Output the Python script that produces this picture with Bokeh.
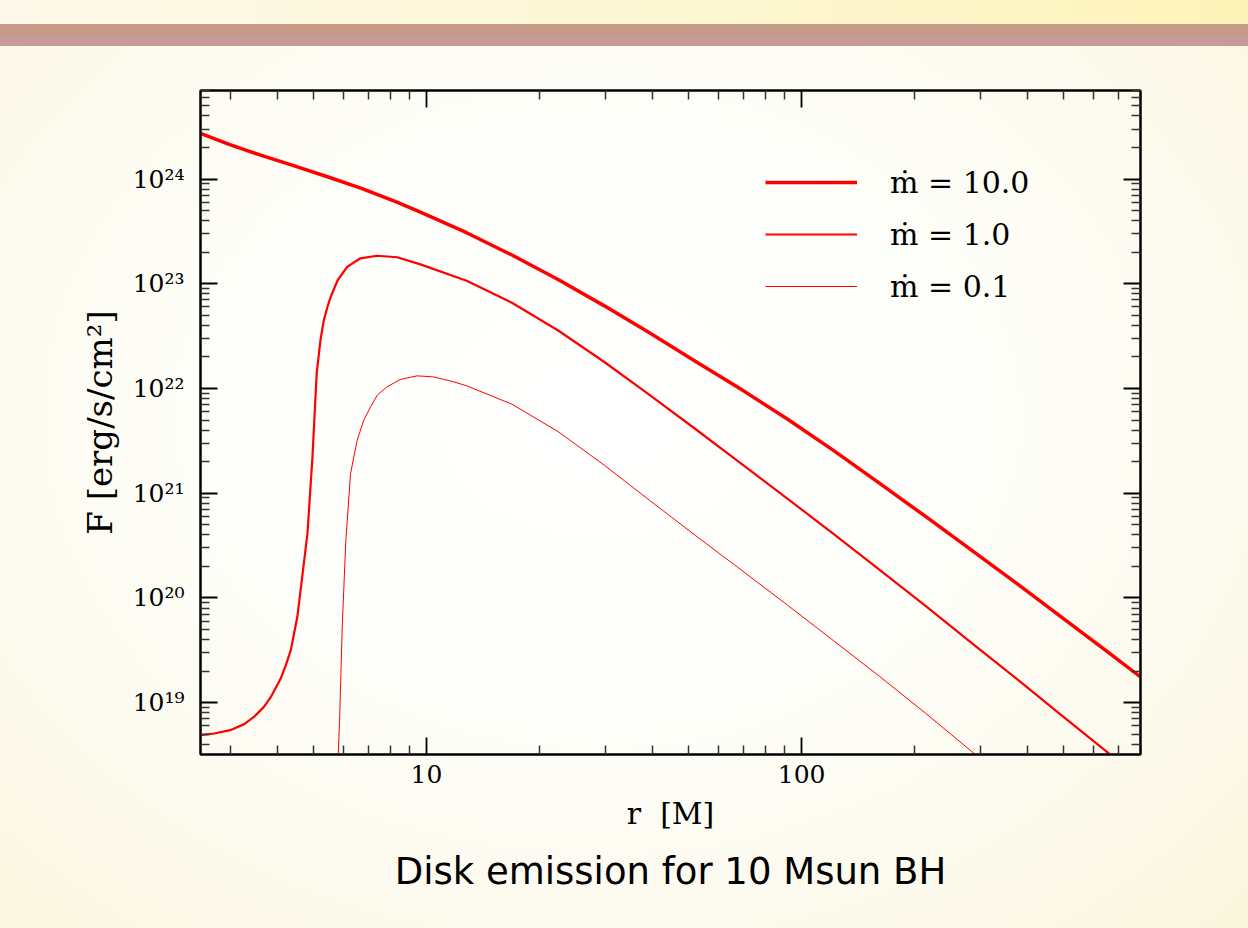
from bokeh.plotting import figure
from bokeh.models import (LogAxis, FixedTicker, Legend, LegendItem, Title,
                          ColumnDataSource, Range1d)
from bokeh.layouts import column
from bokeh.embed import file_html
from bokeh.resources import INLINE

# ---- data ----
r_m10 = [2.5, 2.98, 3.65, 4.49, 5.5, 6.74, 8.28, 9.64, 12.8, 16.9, 22.5,
         29.8, 39.4, 52.2, 69.3, 91.8, 121.8, 161.4, 213.9, 283.6, 375.8,
         498.6, 662.0, 800.0]
F_m10 = [2.73e24, 2.14e24, 1.67e24, 1.32e24, 1.04e24, 8.09e23, 6.07e23,
         4.83e23, 3.07e23, 1.88e23, 1.09e23, 6.15e22, 3.38e22, 1.81e22,
         9.70e21, 5.09e21, 2.55e21, 1.24e21, 6.00e20, 2.86e20, 1.36e20,
         6.35e19, 2.96e19, 1.76e19]

r_m1 = [2.5, 2.72, 3.0, 3.27, 3.47, 3.69, 3.85, 4.09, 4.22, 4.35, 4.53, 4.82,
        4.97, 5.10, 5.22, 5.33, 5.45, 5.56, 5.80, 6.15, 6.67, 7.39, 8.36,
        9.64, 12.8, 16.9, 22.5, 29.8, 39.4, 52.2, 69.3, 91.8, 121.8, 161.4,
        213.9, 283.6, 375.8, 498.6, 670.0]
F_m1 = [4.90e18, 5.08e18, 5.46e18, 6.24e18, 7.31e18, 9.12e18, 1.135e19,
        1.70e19, 2.28e19, 3.16e19, 6.61e19, 4.13e20, 2.23e21, 1.39e22,
        2.90e22, 4.50e22, 6.03e22, 7.52e22, 1.08e23, 1.45e23, 1.75e23,
        1.85e23, 1.79e23, 1.53e23, 1.07e23, 6.58e22, 3.56e22, 1.79e22,
        8.65e21, 4.08e21, 1.90e21, 8.85e20, 4.06e20, 1.85e20, 8.38e19,
        3.73e19, 1.67e19, 7.33e18, 3.12e18]

r_m01 = [5.82, 5.87, 5.97, 6.10, 6.28, 6.54, 6.81, 7.10, 7.40, 7.86, 8.53,
         9.44, 10.45, 11.8, 12.8, 16.9, 22.5, 29.8, 39.4, 52.2, 69.3, 91.8,
         121.8, 161.4, 213.9, 291.6]
F_m01 = [3.16e18, 6.81e18, 5.71e19, 3.56e20, 1.55e21, 3.21e21, 4.99e21,
         6.68e21, 8.65e21, 1.04e22, 1.22e22, 1.32e22, 1.29e22, 1.16e22,
         1.06e22, 7.08e21, 3.85e21, 1.85e21, 8.51e20, 3.93e20, 1.83e20,
         8.51e19, 3.89e19, 1.78e19, 7.94e18, 3.16e18]

series_labels = ["ṁ = 10.0", "ṁ = 1.0", "ṁ = 0.1"]

x_major = [10, 100]
x_major_labels = ["10", "100"]
x_minor = [3, 4, 5, 6, 7, 8, 9, 20, 30, 40, 50, 60, 70, 80, 90,
           200, 300, 400, 500, 600, 700, 800]
y_major = [1e19, 1e20, 1e21, 1e22, 1e23, 1e24]
y_major_labels = ["10¹⁹", "10²⁰", "10²¹", "10²²", "10²³", "10²⁴"]
y_minor = [m * 10.0 ** e for e in range(18, 25) for m in range(2, 10)]

x_label = "r\u00a0\u00a0[M]"
y_label = "F [erg/s/cm²]"
caption = "Disk emission for 10 Msun BH"

# ---- figure ----
p = figure(width=1248, height=928, x_axis_type="log", y_axis_type="log",
           x_range=Range1d(2.5, 800), y_range=Range1d(3.2e18, 7e24),
           output_backend="svg", toolbar_location=None,
           min_border_left=200, min_border_right=108,
           min_border_top=90, min_border_bottom=174)
p.grid.visible = False
p.background_fill_alpha = 0
p.border_fill_alpha = 0
p.outline_line_color = "black"
p.outline_line_width = 2

serif = "DejaVu Serif"

def style_axis(ax, labels):
    ax.axis_line_width = 2
    ax.axis_line_color = "black"
    ax.major_tick_in = 17
    ax.major_tick_out = 0
    ax.minor_tick_in = 9
    ax.minor_tick_out = 0
    ax.major_tick_line_width = 1.8
    ax.major_tick_line_color = "black"
    ax.minor_tick_line_width = 1.5
    ax.minor_tick_line_color = "#333333"
    ax.major_label_text_font = serif
    ax.major_label_text_font_size = "25px"
    ax.major_label_text_color = "black" if labels else None
    ax.axis_label_text_font = serif
    ax.axis_label_text_font_style = "normal"
    ax.axis_label_text_color = "black"

xa = p.xaxis[0]
xa.ticker = FixedTicker(ticks=x_major, minor_ticks=x_minor)
style_axis(xa, True)
xa.major_label_overrides = dict(zip(x_major, x_major_labels))
xa.major_label_standoff = 10
xa.axis_label = x_label
xa.axis_label_text_font_size = "30px"
xa.axis_label_standoff = 10

ya = p.yaxis[0]
ya.ticker = FixedTicker(ticks=y_major, minor_ticks=y_minor)
style_axis(ya, True)
ya.major_label_overrides = dict(zip(y_major, y_major_labels))
ya.major_label_standoff = 16
ya.axis_label = y_label
ya.axis_label_text_font_size = "34px"
ya.axis_label_standoff = 10

top = LogAxis(ticker=FixedTicker(ticks=x_major, minor_ticks=x_minor))
style_axis(top, False)
p.add_layout(top, "above")
right = LogAxis(ticker=FixedTicker(ticks=y_major, minor_ticks=y_minor))
style_axis(right, False)
p.add_layout(right, "right")

src10 = ColumnDataSource(dict(r=r_m10, F=F_m10))
src1 = ColumnDataSource(dict(r=r_m1, F=F_m1))
src01 = ColumnDataSource(dict(r=r_m01, F=F_m01))

l10 = p.line("r", "F", source=src10, line_color="#ff0000", line_width=3.5,
             line_join="round")
l1 = p.line("r", "F", source=src1, line_color="#ff0000", line_width=2.2,
            line_join="round")
l01 = p.line("r", "F", source=src01, line_color="#ff0000", line_width=1.0,
             line_join="round")

legend = Legend(items=[LegendItem(label=series_labels[0], renderers=[l10]),
                       LegendItem(label=series_labels[1], renderers=[l1]),
                       LegendItem(label=series_labels[2], renderers=[l01])],
                location=(565, 442), orientation="vertical",
                glyph_width=92, glyph_height=52, spacing=0, padding=0,
                margin=0, label_standoff=33,
                label_text_font=serif, label_text_font_size="30px",
                label_text_color="black",
                background_fill_alpha=0, border_line_color=None)
p.add_layout(legend, "center")

p.add_layout(Title(text=caption, align="center", text_font="DejaVu Sans",
                   text_font_size="37px", text_font_style="normal",
                   text_color="black", standoff=28), "below")

bg = ("linear-gradient(to bottom, #c59b87 0px, #c59b87 11px, #c79a9a 11px, #c79a9a 22px) 0 24px / 100% 22px no-repeat, "
      "linear-gradient(to right, #fdf9ea, #fdf6cc 70%, #fdf3b8) 0 0 / 100% 24px no-repeat, "
      "radial-gradient(ellipse at 48% 45%, #ffffff 0%, #fefefa 40%, #fcf9ea 80%, #fbf6dc 100%)")

layout = column(p, styles={"background": bg, "width": "1248px", "height": "928px"})

with open("out.html", "w") as f:
    f.write(file_html(layout, INLINE))
